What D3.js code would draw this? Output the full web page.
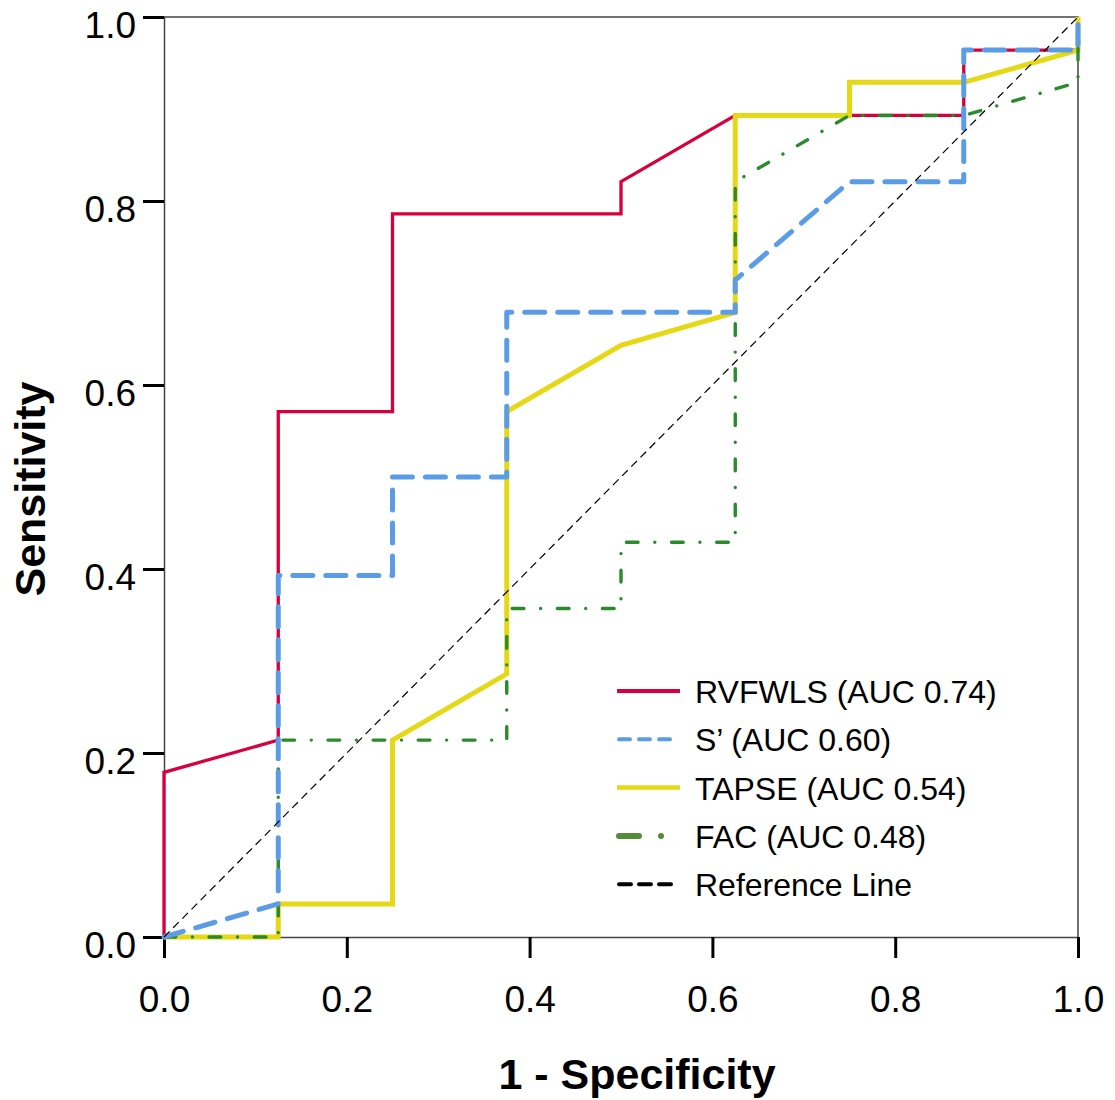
<!DOCTYPE html>
<html>
<head>
<meta charset="utf-8">
<script src="https://cdn.jsdelivr.net/npm/d3@7"></script>
<style>
  body { margin: 0; background: #fff; }
  svg text { font-family: "Liberation Sans", Arial, sans-serif; fill: #000; }
</style>
</head>
<body>
<div id="chart"></div>
<script>
// ROC curve data (1 - specificity, sensitivity)
const rvfwlsX = [0, 0, 0.125, 0.125, 0.25, 0.25, 0.5, 0.5, 0.625, 0.875, 0.875, 1, 1];
const rvfwlsY = [0, 0.179, 0.214, 0.571, 0.571, 0.786, 0.786, 0.821, 0.893, 0.893, 0.964, 0.964, 1];

const sPrimeX = [0, 0.125, 0.125, 0.25, 0.25, 0.375, 0.375, 0.625, 0.625, 0.75, 0.875, 0.875, 1, 1];
const sPrimeY = [0, 0.036, 0.393, 0.393, 0.5, 0.5, 0.679, 0.679, 0.714, 0.821, 0.821, 0.964, 0.964, 1];

const tapseX = [0, 0.125, 0.125, 0.25, 0.25, 0.375, 0.375, 0.5, 0.625, 0.625, 0.75, 0.75, 0.875, 1, 1];
const tapseY = [0, 0, 0.036, 0.036, 0.214, 0.286, 0.571, 0.643, 0.679, 0.893, 0.893, 0.929, 0.929, 0.964, 1];

const facX = [0, 0.125, 0.125, 0.375, 0.375, 0.5, 0.5, 0.625, 0.625, 0.75, 0.875, 1, 1];
const facY = [0, 0, 0.214, 0.214, 0.357, 0.357, 0.429, 0.429, 0.821, 0.893, 0.893, 0.929, 1];

const refX = [0, 1];
const refY = [0, 1];

const legendLabels = ['RVFWLS (AUC 0.74)', 'S\u2019 (AUC 0.60)', 'TAPSE (AUC 0.54)', 'FAC (AUC 0.48)', 'Reference Line'];
const tickValues = [0, 0.2, 0.4, 0.6, 0.8, 1.0];

function zip(xs, ys) {
  return xs.map((x, i) => [x, ys[i]]);
}

function renderChart() {
  const margin = { top: 17, right: 37, bottom: 163, left: 164 };
  const width = 1115 - margin.left - margin.right;
  const height = 1100 - margin.top - margin.bottom;

  const svg = d3.select('#chart').append('svg')
    .attr('width', 1115)
    .attr('height', 1100);

  const g = svg.append('g')
    .attr('transform', `translate(${margin.left}, ${margin.top})`);

  const xScale = d3.scaleLinear().domain([0, 1]).range([0, width]);
  const yScale = d3.scaleLinear().domain([0, 1]).range([height, 0]);

  // frame (top and right)
  g.append('path')
    .attr('d', `M0,0H${width}V${height}`)
    .attr('fill', 'none')
    .attr('stroke', '#444')
    .attr('stroke-width', 1.5);

  // axes
  const xAxis = d3.axisBottom(xScale).tickValues(tickValues).tickSize(21).tickPadding(28).tickFormat(d3.format('.1f'));
  const yAxis = d3.axisLeft(yScale).tickValues(tickValues).tickSize(21).tickPadding(7).tickFormat(d3.format('.1f'));

  const gx = g.append('g')
    .attr('transform', `translate(0, ${height})`)
    .call(xAxis);
  const gy = g.append('g').call(yAxis);

  [gx, gy].forEach(ax => {
    ax.select('.domain').attr('stroke', '#444').attr('stroke-width', 1.5);
    ax.selectAll('.tick line').attr('stroke', '#000').attr('stroke-width', 3);
    ax.selectAll('.tick text')
      .attr('font-size', 37)
      .attr('font-family', '"Liberation Sans", Arial, sans-serif')
      .attr('fill', '#000');
  });
  gx.selectAll('.tick text').attr('dy', '0.71em');
  gy.selectAll('.tick text').attr('dy', '0.56em');

  // axis titles
  svg.append('text')
    .attr('x', 637)
    .attr('y', 1089)
    .attr('text-anchor', 'middle')
    .attr('font-size', 43)
    .attr('font-weight', 'bold')
    .text('1 - Specificity');

  svg.append('text')
    .attr('transform', 'translate(45, 489) rotate(-90)')
    .attr('text-anchor', 'middle')
    .attr('font-size', 43)
    .attr('font-weight', 'bold')
    .text('Sensitivity');

  const line = d3.line()
    .x(d => xScale(d[0]))
    .y(d => yScale(d[1]));

  const series = [
    { data: zip(rvfwlsX, rvfwlsY), color: '#d7003c', width: 3.3, dash: null, cap: 'butt', join: 'miter' },
    { data: zip(tapseX, tapseY), color: '#e5d816', width: 5, dash: null, cap: 'butt', join: 'miter' },
    { data: zip(facX, facY), color: '#2b8a2b', width: 3.4, dash: '11.7 16.7 0.01 16.7', cap: 'round', join: 'round' },
    { data: zip(sPrimeX, sPrimeY), color: '#5b9ce6', width: 5, dash: '20 13', cap: 'round', join: 'round' },
    { data: zip(refX, refY), color: '#000', width: 1.2, dash: '8 5', cap: 'butt', join: 'miter' }
  ];

  g.selectAll('path.roc')
    .data(series)
    .join('path')
    .attr('class', 'roc')
    .attr('d', d => line(d.data))
    .attr('fill', 'none')
    .attr('stroke', d => d.color)
    .attr('stroke-width', d => d.width)
    .attr('stroke-dasharray', d => d.dash)
    .attr('stroke-linecap', d => d.cap)
    .attr('stroke-linejoin', d => d.join);

  // legend
  const legendItems = [
    { color: '#d7003c', width: 4, dash: null, cap: 'butt' },
    { color: '#5b9ce6', width: 4, dash: '11 9', cap: 'round' },
    { color: '#e5d816', width: 4.5, dash: null, cap: 'butt' },
    { color: '#568b3a', width: 6, dash: '20 22 0.01 30', cap: 'round' },
    { color: '#000', width: 4, dash: '12 8', cap: 'round' }
  ];

  const legend = svg.append('g')
    .attr('transform', 'translate(617, 691)');

  const rows = legend.selectAll('g')
    .data(legendItems)
    .join('g')
    .attr('transform', (d, i) => `translate(0, ${i * 48.3})`);

  rows.append('line')
    .attr('x1', d => d.cap === 'round' ? 2 : 0)
    .attr('x2', d => d.cap === 'round' ? 61 : 63)
    .attr('stroke', d => d.color)
    .attr('stroke-width', d => d.width)
    .attr('stroke-dasharray', d => d.dash)
    .attr('stroke-linecap', d => d.cap);

  rows.append('text')
    .attr('x', 78)
    .attr('y', 12)
    .attr('font-size', 32)
    .text((d, i) => legendLabels[i]);
}

document.addEventListener('DOMContentLoaded', renderChart);
</script>
</body>
</html>
